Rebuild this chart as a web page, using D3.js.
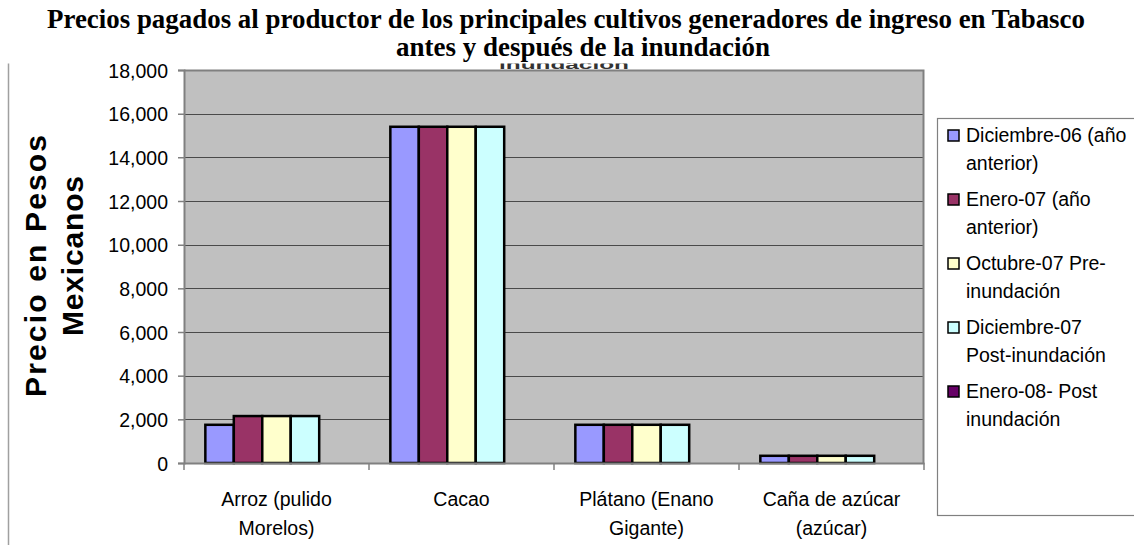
<!DOCTYPE html>
<html>
<head>
<meta charset="utf-8">
<script src="https://cdn.jsdelivr.net/npm/d3@7"></script>
<style>
  html, body { margin: 0; padding: 0; background: #fff; }
  svg { display: block; }
</style>
</head>
<body>
<svg id="chart" width="1134" height="552"></svg>
<script>
// ---- data ----
const titleLines = [
  "Precios pagados al productor de los principales cultivos generadores de ingreso en Tabasco",
  "antes y después de la inundación"
];
const yTitleLines = ["Precio en Pesos", "Mexicanos"];
const categories = ["Arroz", "Cacao", "Plátano", "Caña"];
const categoryLabelLines = [
  ["Arroz (pulido", "Morelos)"],
  ["Cacao"],
  ["Plátano (Enano", "Gigante)"],
  ["Caña de azúcar", "(azúcar)"]
];
const seriesNames = [
  "Diciembre-06 (año anterior)",
  "Enero-07 (año anterior)",
  "Octubre-07 Pre-inundación",
  "Diciembre-07 Post-inundación",
  "Enero-08- Post inundación"
];
const legendLines = [
  ["Diciembre-06 (año", "anterior)"],
  ["Enero-07 (año", "anterior)"],
  ["Octubre-07 Pre-", "inundación"],
  ["Diciembre-07", "Post-inundación"],
  ["Enero-08- Post", "inundación"]
];
const dic06 = [1750, 15400, 1750, 330];
const ene07 = [2150, 15400, 1750, 330];
const oct07 = [2150, 15400, 1750, 330];
const dic07 = [2150, 15400, 1750, 330];
const ene08 = [null, null, null, null];
const seriesValues = [dic06, ene07, oct07, dic07, ene08];
const seriesColors = ["#9999FF", "#993366", "#FFFFCC", "#CCFFFF", "#660066"];
const yTicks = [0, 2000, 4000, 6000, 8000, 10000, 12000, 14000, 16000, 18000];

// ---- layout ----
const svg = d3.select("#chart");
const plot = { left: 184, right: 924, top: 70, bottom: 463 };

const x = d3.scaleBand().domain(categories).range([plot.left, plot.right]).paddingInner(0).paddingOuter(0);
const xs = d3.scaleBand().domain(d3.range(seriesNames.length)).range([0, x.bandwidth()])
  .paddingInner(0).paddingOuter(0.75);
const y = d3.scaleLinear().domain([0, 18000]).range([plot.bottom, plot.top]);

// title
const title = svg.append("g").attr("font-family", "'Liberation Serif', 'Times New Roman', serif")
  .attr("font-weight", "bold").attr("font-size", 27).attr("fill", "#000").attr("text-anchor", "middle");
title.append("text").attr("x", 566).attr("y", 28).text(titleLines[0])
  .attr("textLength", 1038).attr("lengthAdjust", "spacingAndGlyphs");
title.append("text").attr("x", 583).attr("y", 56).text(titleLines[1])
  .attr("textLength", 374).attr("lengthAdjust", "spacingAndGlyphs");

// chart region (clipped like a pasted image)
svg.append("clipPath").attr("id", "chartClip").append("rect")
  .attr("x", 0).attr("y", 63.5).attr("width", 1134).attr("height", 490);
const chart = svg.append("g").attr("clip-path", "url(#chartClip)");

// ghost of old title, mostly hidden behind plot area
chart.append("text").attr("x", 564).attr("y", 69).attr("text-anchor", "middle")
  .attr("font-family", "'Liberation Sans', Arial, sans-serif").attr("font-weight", "bold")
  .attr("font-size", 13).attr("fill", "#333").attr("textLength", 130)
  .attr("lengthAdjust", "spacingAndGlyphs").text("inundación");

// left frame line
chart.append("line").attr("x1", 8.5).attr("x2", 8.5).attr("y1", 62).attr("y2", 545)
  .attr("stroke", "#a0a0a0").attr("stroke-width", 1.5);

// plot area
chart.append("rect").attr("x", plot.left).attr("y", plot.top)
  .attr("width", plot.right - plot.left).attr("height", plot.bottom - plot.top)
  .attr("fill", "#C0C0C0");

// gridlines
chart.append("g").selectAll("line").data(yTicks.filter(d => d > 0 && d < 18000)).join("line")
  .attr("x1", plot.left).attr("x2", plot.right)
  .attr("y1", d => Math.round(y(d)) + 0.5).attr("y2", d => Math.round(y(d)) + 0.5)
  .attr("stroke", "#4a4a4a").attr("stroke-width", 1);

// plot border top/right
chart.append("path")
  .attr("d", `M${plot.left},${plot.top + 0.5}H${plot.right - 0.5}V${plot.bottom}`)
  .attr("fill", "none").attr("stroke", "#808080").attr("stroke-width", 2);

// bars
const groups = chart.append("g").selectAll("g").data(seriesValues).join("g")
  .attr("fill", (d, i) => seriesColors[i]);
groups.selectAll("rect")
  .data((vals, si) => vals.map((v, ci) => ({ v, si, ci })).filter(d => d.v != null))
  .join("rect")
  .attr("x", d => x(categories[d.ci]) + xs(d.si))
  .attr("width", xs.bandwidth())
  .attr("y", d => y(d.v))
  .attr("height", d => y(0) - y(d.v))
  .attr("stroke", "#000").attr("stroke-width", 2.5);

// y axis
const yAxis = chart.append("g").attr("transform", `translate(${plot.left},0)`)
  .call(d3.axisLeft(y).tickValues(yTicks).tickFormat(d3.format(",")).tickSize(6).tickPadding(10));
yAxis.select(".domain").attr("stroke", "#808080").attr("stroke-width", 2);
yAxis.selectAll(".tick line").attr("stroke", "#808080").attr("stroke-width", 1.5);
yAxis.selectAll(".tick text").attr("font-family", "'Liberation Sans', Arial, sans-serif")
  .attr("font-size", 19.5).attr("fill", "#000").attr("dy", "0.36em");

// x axis
const xAxis = chart.append("g").attr("transform", `translate(0,${plot.bottom})`)
  .call(d3.axisBottom(x).tickSize(0).tickFormat(""));
xAxis.select(".domain").attr("stroke", "#808080").attr("stroke-width", 2);
xAxis.selectAll(".tick").remove();
// category boundary ticks
chart.append("g").selectAll("line").data(categories.concat(["__end"])).join("line")
  .attr("x1", (d, i) => i < categories.length ? x(d) : plot.right)
  .attr("x2", (d, i) => i < categories.length ? x(d) : plot.right)
  .attr("y1", plot.bottom).attr("y2", plot.bottom + 7)
  .attr("stroke", "#808080").attr("stroke-width", 1.5);
// category labels
const catLabels = chart.append("g").attr("font-family", "'Liberation Sans', Arial, sans-serif")
  .attr("font-size", 19.5).attr("fill", "#000").attr("text-anchor", "middle");
categories.forEach((c, i) => {
  const t = catLabels.append("text").attr("x", x(c) + x.bandwidth() / 2).attr("y", 506);
  categoryLabelLines[i].forEach((ln, j) => {
    t.append("tspan").attr("x", x(c) + x.bandwidth() / 2).attr("y", 506 + j * 29).text(ln);
  });
});

// y axis title
const yt = chart.append("g").attr("font-family", "'Liberation Sans', Arial, sans-serif")
  .attr("font-weight", "bold").attr("font-size", 30).attr("fill", "#000").attr("text-anchor", "middle");
[[yTitleLines[0], 46, 266, 262], [yTitleLines[1], 83, 256, 160]].forEach(([txt, bx, cy, len]) => {
  yt.append("text").attr("transform", `translate(${bx},${cy}) rotate(-90)`).text(txt)
    .attr("textLength", len).attr("lengthAdjust", "spacing");
});

// legend
const lg = chart.append("g");
lg.append("rect").attr("x", 937.5).attr("y", 118.5).attr("width", 220).attr("height", 397)
  .attr("fill", "#fff").attr("stroke", "#808080").attr("stroke-width", 1.2);
const legendItems = lg.selectAll("g").data(seriesNames).join("g")
  .attr("transform", (d, i) => `translate(0,${142 + i * 64})`);
legendItems.append("rect").attr("x", 948).attr("y", -12).attr("width", 11).attr("height", 11)
  .attr("fill", (d, i) => seriesColors[i]).attr("stroke", "#000").attr("stroke-width", 1.5);
legendItems.append("text").attr("font-family", "'Liberation Sans', Arial, sans-serif")
  .attr("font-size", 19.5).attr("fill", "#000")
  .each(function (d, i) {
    const t = d3.select(this);
    legendLines[i].forEach((ln, j) => {
      t.append("tspan").attr("x", 966).attr("y", j * 28).text(ln);
    });
  });
</script>
</body>
</html>
